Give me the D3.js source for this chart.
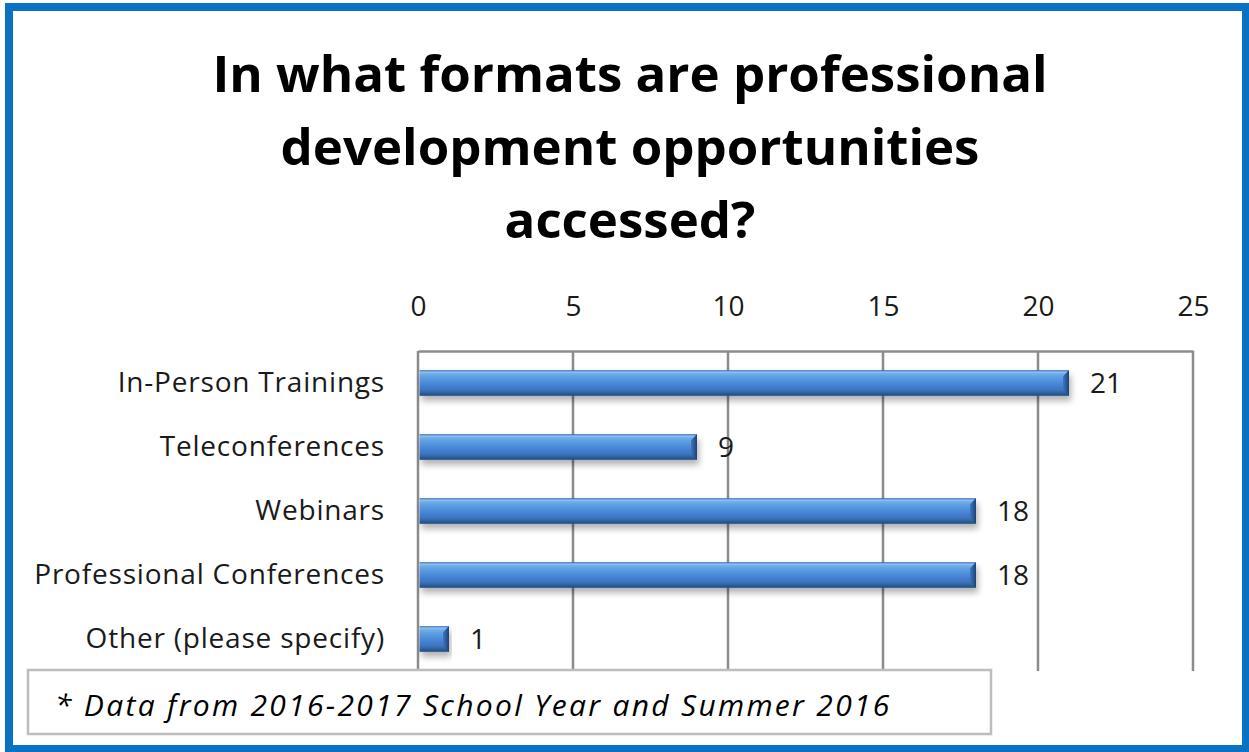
<!DOCTYPE html>
<html>
<head>
<meta charset="utf-8">
<script src="https://cdn.jsdelivr.net/npm/d3@7"></script>
<style>
  html, body { margin: 0; padding: 0; background: #fff; }
  svg { display: block; }
  text { font-family: "Open Sans", Lato, sans-serif; fill: #1a1a1a; }
</style>
</head>
<body>
<svg id="chart" width="1249" height="752"></svg>
<script>
// Survey responses: formats used to access professional development
const categories = [
  "In-Person Trainings",
  "Teleconferences",
  "Webinars",
  "Professional Conferences",
  "Other (please specify)"
];
const counts = [21, 9, 18, 18, 1];
const tickValues = [0, 5, 10, 15, 20, 25];
const titleLines = [
  "In what formats are professional",
  "development opportunities",
  "accessed?"
];
const footnote = "* Data from 2016-2017 School Year and Summer 2016";

const W = 1249, H = 752;
const FONT = "'Open Sans', Lato, sans-serif";
const svg = d3.select("#chart");

// Defs: bar gradient, end-cap gradient, soft shadow
const defs = svg.append("defs");
const g1 = defs.append("linearGradient").attr("id", "barGrad")
  .attr("x1", 0).attr("y1", 0).attr("x2", 0).attr("y2", 1);
[["0%", "#3566a6"], ["8%", "#7cb4ee"], ["28%", "#5c9de3"], ["55%", "#4886d3"], ["80%", "#3a71ba"], ["100%", "#204a7e"]]
  .forEach(([o, c]) => g1.append("stop").attr("offset", o).attr("stop-color", c));
const g2 = defs.append("linearGradient").attr("id", "capGrad")
  .attr("x1", 0).attr("y1", 0).attr("x2", 1).attr("y2", 0);
[["0%", "#3d78c4"], ["100%", "#1d4272"]]
  .forEach(([o, c]) => g2.append("stop").attr("offset", o).attr("stop-color", c));
const sh = defs.append("filter").attr("id", "shadow")
  .attr("x", "-5%").attr("y", "-30%").attr("width", "115%").attr("height", "190%");
sh.append("feDropShadow").attr("dx", 2).attr("dy", 5).attr("stdDeviation", 3)
  .attr("flood-color", "#000").attr("flood-opacity", 0.3);

// Outer frame
svg.append("rect").attr("x", 9).attr("y", 7).attr("width", W - 12).attr("height", H - 10)
  .attr("fill", "#fff").attr("stroke", "#0a72c4").attr("stroke-width", 8);

// Title
svg.append("g").selectAll("text").data(titleLines).join("text")
  .attr("x", 630).attr("y", (d, i) => 92 + i * 73)
  .attr("text-anchor", "middle")
  .attr("font-size", 51).attr("font-weight", 700)
  .style("fill", "#000")
  .text(d => d);

// Plot area
const plot = { left: 418, right: 1193, top: 351, bottom: 671 };
const x = d3.scaleLinear().domain([0, 25]).range([plot.left, plot.right]);
const y = d3.scaleBand().domain(categories).range([plot.top, plot.bottom]).paddingInner(0.6).paddingOuter(0.3);

// Vertical gridlines
svg.append("g").selectAll("line").data(tickValues).join("line")
  .attr("x1", d => x(d)).attr("x2", d => x(d))
  .attr("y1", plot.top).attr("y2", plot.bottom)
  .attr("stroke", "#8c8c8c").attr("stroke-width", 2.5);

// Top value axis
const xAxis = svg.append("g").attr("transform", `translate(0,${plot.top})`)
  .call(d3.axisTop(x).tickValues(tickValues).tickSize(0).tickPadding(35));
xAxis.select(".domain").attr("stroke", "#8c8c8c").attr("stroke-width", 2.5);
xAxis.selectAll("text").attr("font-size", 28).attr("font-family", FONT).style("fill", "#1a1a1a");

// Category axis labels
const yAxis = svg.append("g").attr("transform", `translate(${plot.left},0)`)
  .call(d3.axisLeft(y).tickSize(0).tickPadding(33));
yAxis.select(".domain").remove();
yAxis.selectAll("text").attr("font-size", 28).attr("letter-spacing", 0.8)
  .attr("font-family", FONT).style("fill", "#1a1a1a");

// Bars
const bars = svg.append("g").selectAll("g").data(categories).join("g");
bars.append("rect")
  .attr("x", x(0) + 1.5).attr("y", d => y(d))
  .attr("width", (d, i) => x(counts[i]) - x(0) - 1.5)
  .attr("height", y.bandwidth())
  .attr("fill", "url(#barGrad)")
  .attr("filter", "url(#shadow)");
// Bevelled end cap
bars.append("path")
  .attr("d", (d, i) => {
    const xe = x(counts[i]), y0 = y(d), h = y.bandwidth(), b = Math.min(6, (xe - x(0)) / 3);
    return `M${xe - b},${y0 + b}L${xe},${y0}L${xe},${y0 + h}L${xe - b},${y0 + h - b}Z`;
  })
  .attr("fill", "url(#capGrad)");
// Top highlight
bars.append("line")
  .attr("x1", x(0) + 2).attr("x2", (d, i) => x(counts[i]) - 3)
  .attr("y1", d => y(d) + 2).attr("y2", d => y(d) + 2)
  .attr("stroke", "#8cc0f2").attr("stroke-width", 1.5).attr("opacity", 0.8);

// Value labels
svg.append("g").selectAll("text").data(categories).join("text")
  .attr("x", (d, i) => x(counts[i]) + 21)
  .attr("y", d => y(d) + y.bandwidth() / 2)
  .attr("dy", "0.36em")
  .attr("font-size", 28)
  .text((d, i) => counts[i]);

// Footnote box
svg.append("rect").attr("x", 28).attr("y", 670).attr("width", 963).attr("height", 64)
  .attr("fill", "#fff").attr("stroke", "#bdbdbd").attr("stroke-width", 2.5);
svg.append("text").attr("x", 55).attr("y", 716)
  .attr("font-size", 30).attr("font-style", "italic").attr("letter-spacing", 2.3)
  .style("fill", "#000")
  .text(footnote);
</script>
</body>
</html>
